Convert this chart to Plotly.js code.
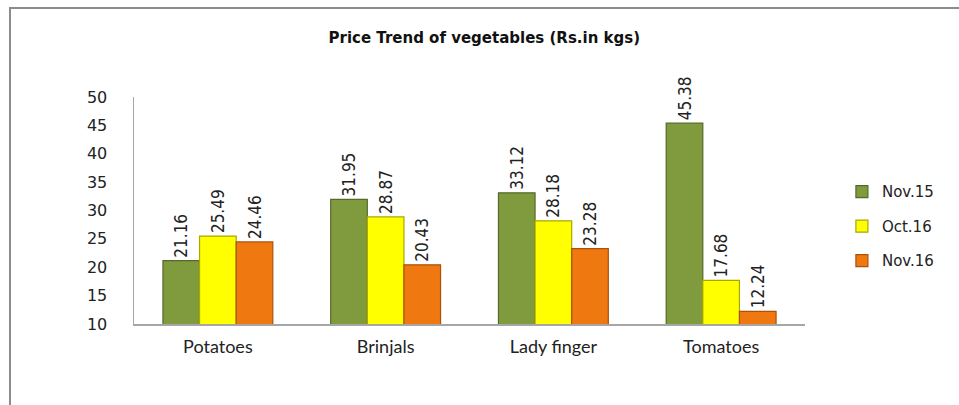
<!DOCTYPE html>
<html>
<head>
<meta charset="utf-8">
<script src="https://cdn.plot.ly/plotly-3.0.1.min.js"></script>
<style>
html,body{margin:0;padding:0;background:#fff;}
#frame{position:absolute;left:9px;top:7px;width:1000px;height:500px;border:2px solid #8c8c8c;box-sizing:border-box;pointer-events:none;z-index:5;}
#chart{width:959px;height:405px;}
</style>
</head>
<body>
<div id="frame"></div>
<div id="chart"></div>
<script>
const categories = ["Potatoes", "Brinjals", "Lady finger", "Tomatoes"];
const seriesNames = ["Nov.15", "Oct.16", "Nov.16"];
const nov15 = [21.16, 31.95, 33.12, 45.38];
const oct16 = [25.49, 28.87, 28.18, 17.68];
const nov16 = [24.46, 20.43, 23.28, 12.24];
const yTicks = [10, 15, 20, 25, 30, 35, 40, 45, 50];

const fills = ["#7f9b3e", "#ffff00", "#f07811"];
const edges = ["#56692a", "#a8a800", "#a9520a"];
const values = [nov15, oct16, nov16];

const traces = values.map((v, i) => ({
  type: "bar",
  name: seriesNames[i],
  x: categories,
  y: v,
  legendgroup: "g" + i,
  marker: {color: fills[i], line: {color: edges[i], width: 1.2}},
  text: v.map(d => d.toFixed(2)),
  textposition: "outside",
  textangle: -90,
  constraintext: "none",
  cliponaxis: false,
  outsidetextfont: {family: "DejaVu Sans Condensed, Liberation Sans, sans-serif", size: 17, color: "#222"},
  hoverinfo: "x+y"
}));

const layout = {
  width: 959, height: 405,
  margin: {l: 134, r: 154, t: 97, b: 81},
  paper_bgcolor: "#fff", plot_bgcolor: "#fff",
  title: {text: "<b>Price Trend of vegetables (Rs.in kgs)</b>", x: 0.505, xanchor: "center", y: 0.908, yanchor: "middle",
          font: {family: "DejaVu Sans, Verdana, sans-serif", size: 15, color: "#111"}},
  barmode: "group",
  bargap: 0.345,
  bargroupgap: 0,
  xaxis: {
    showline: true, linecolor: "#a6a6a6", linewidth: 1.5,
    ticks: "", showgrid: false, zeroline: false,
    tickfont: {family: "Lato, Liberation Sans, sans-serif", size: 18, color: "#222"},
    ticklabelstandoff: 6
  },
  yaxis: {
    range: [10, 50],
    tickvals: yTicks,
    ticktext: yTicks.map(String),
    showline: true, linecolor: "#a6a6a6", linewidth: 1.5,
    ticks: "", showgrid: false, zeroline: false,
    tickfont: {family: "DejaVu Sans, Verdana, sans-serif", size: 16, color: "#222"},
    ticklabelstandoff: 22
  },
  legend: {
    x: 1.055, xanchor: "left", y: 0.43, yanchor: "middle",
    font: {family: "DejaVu Sans, Verdana, sans-serif", size: 15, color: "#222"},
    tracegroupgap: 12,
    itemwidth: 30,
    bgcolor: "rgba(0,0,0,0)"
  },
  showlegend: true
};

Plotly.newPlot("chart", traces, layout, {displayModeBar: false, staticPlot: true});
</script>
</body>
</html>
